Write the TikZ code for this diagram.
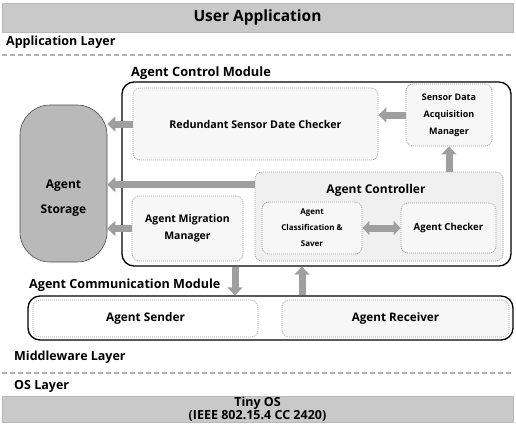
\documentclass[tikz,border=0pt]{standalone}
\usepackage{fontspec}
\setmainfont{Open Sans}
\usetikzlibrary{arrows.meta}
\begin{document}
\begin{tikzpicture}[x=1pt,y=-1pt,
  fs/.style 2 args={font=\fontsize{#1}{#2}\selectfont\bfseries},
  bar/.style={fill=gray!42, draw=gray!55, line width=0.6pt, inner sep=0pt, align=center},
  module/.style={draw=black, line width=1.3pt, rounded corners=12pt, inner sep=0pt},
  inbox/.style={draw=gray!70, line width=0.8pt, dash pattern=on 1pt off 1pt, fill=gray!6, rounded corners=7pt, inner sep=0pt, align=center},
  blk/.style={draw=gray!75, line width=7pt, -{Triangle[length=8pt,width=15pt]}},
  dblk/.style={draw=gray!75, line width=7pt, {Triangle[length=7pt,width=14pt]}-{Triangle[length=7pt,width=14pt]}},
  layerline/.style={draw=gray!60, line width=1.6pt, dash pattern=on 5pt off 3pt},
  lbl/.style={anchor=west, inner sep=0pt},
]
\useasboundingbox (0,0) rectangle (516,424);

% top bar and application layer
\node[bar, minimum width=511pt, minimum height=29pt, fs={15.5}{17}] (userapp) at (257.5,17.5) {User Application};
\node[lbl, fs={12.5}{14}] (applayer) at (6,42) {Application Layer};
\coordinate (l1a) at (2,55);
\coordinate (l1b) at (513,55);
\draw[layerline] (l1a) -- (l1b);

% agent control module
\node[lbl, fs={12.8}{14}] (acmlbl) at (131,73) {Agent Control Module};
\node[module, minimum width=389pt, minimum height=184pt] (acm) at (316.5,174) {};

% storage
\node[fill=gray!55, draw=gray!60!black, line width=0.6pt, rounded corners=30pt, minimum width=87pt, minimum height=157pt, inner sep=0pt] (storage) at (63.5,183.5) {};
\node[fs={12}{25}, align=center, inner sep=0pt] (storagelbl) at (63.5,198) {Agent\\Storage};

% inner boxes
\node[inbox, minimum width=245pt, minimum height=72pt, fs={10.7}{12}] (redund) at (255.5,124) {Redundant Sensor Date Checker};
\node[inbox, minimum width=86pt, minimum height=62pt, fs={9}{17}] (sdam) at (449,115) {Sensor Data\\Acquisition\\Manager};
\node[inbox, fill=gray!12, minimum width=248pt, minimum height=89pt] (ctrl) at (379,216.5) {};
\node[fs={12}{13}, inner sep=0pt] (ctrllbl) at (376,190) {Agent Controller};
\node[inbox, minimum width=100pt, minimum height=52pt, fs={8}{16}] (classif) at (312,228) {Agent\\Classification \&\\Saver};
\node[inbox, minimum width=95pt, minimum height=50pt, fs={9.6}{12}] (checker) at (448.5,228) {Agent Checker};
\node[inbox, minimum width=111pt, minimum height=65pt, fs={10.5}{17}] (migr) at (187.5,228.5) {Agent Migration\\Manager};

% communication module
\node[lbl, fs={12.6}{14}] (commlbl) at (29,285) {Agent Communication Module};
\node[module, minimum width=485pt, minimum height=44pt] (comm) at (270.5,318) {};
\node[inbox, fill=white, minimum width=225pt, minimum height=37pt, fs={11.8}{13}] (sender) at (145.5,318.5) {Agent Sender};
\node[inbox, minimum width=227pt, minimum height=37pt, fs={11.7}{13}] (receiver) at (395.5,318.5) {Agent Receiver};

% middleware / OS
\node[lbl, fs={12.5}{14}] (mwlayer) at (14,357) {Middleware Layer};
\coordinate (l2a) at (2,373);
\coordinate (l2b) at (513,373);
\draw[layerline] (l2a) -- (l2b);
\node[lbl, fs={12.5}{14}] (oslayer) at (14,386) {OS Layer};
\node[bar, minimum width=511pt, minimum height=26pt, fs={12.5}{12.5}] (tinyos) at (257.5,409) {Tiny OS\\(IEEE 802.15.4 CC 2420)};

% arrows
\draw[blk] (sdam.west) -- (sdam.west -| redund.east);
\draw[blk] (ctrl.north -| sdam.south) -- (sdam.south);
\draw[blk] (redund.west) -- (redund.west -| storage.east);
\draw[blk] ([yshift=-13pt]ctrl.north west) coordinate (c1) -- (c1 -| storage.east);
\draw[blk] (migr.west) -- (migr.west -| storage.east);
\draw[dblk] (classif.east) -- (checker.west);
\coordinate (dnx) at (235,0);
\coordinate (upx) at (302,0);
\draw[blk] (acm.south -| dnx) -- (comm.north -| dnx);
\draw[blk] (comm.north -| upx) -- (acm.south -| upx);
\end{tikzpicture}
\end{document}
